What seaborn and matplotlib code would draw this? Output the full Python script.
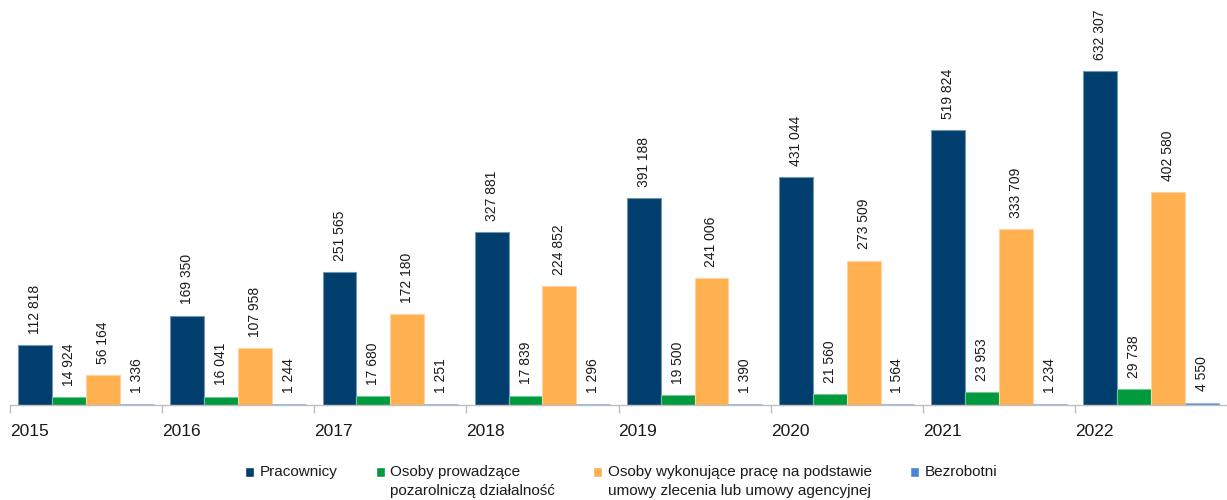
import pandas as pd
import numpy as np
import matplotlib.pyplot as plt
import seaborn as sns
from matplotlib.patches import Rectangle
from matplotlib.legend_handler import HandlerPatch
from matplotlib.colors import to_rgb

# --- DATA ---
years = ["2015", "2016", "2017", "2018", "2019", "2020", "2021", "2022"]
categories = [
    "Pracownicy",
    "Osoby prowadzące\npozarolniczą działalność",
    "Osoby wykonujące pracę na podstawie\numowy zlecenia lub umowy agencyjnej",
    "Bezrobotni",
]
pracownicy = [112818, 169350, 251565, 327881, 391188, 431044, 519824, 632307]
dzialalnosc = [14924, 16041, 17680, 17839, 19500, 21560, 23953, 29738]
zlecenia = [56164, 107958, 172180, 224852, 241006, 273509, 333709, 402580]
bezrobotni = [1336, 1244, 1251, 1296, 1390, 1564, 1234, 4550]

colors = ["#003F6D", "#009A3E", "#FFB04F", "#4A86CF"]

df = pd.DataFrame({"Rok": years * 4,
                   "Kategoria": np.repeat(categories, len(years)),
                   "Wartosc": pracownicy + dzialalnosc + zlecenia + bezrobotni})

sns.set_style("white")
plt.rcParams["font.family"] = ["Liberation Sans", "DejaVu Sans"]

fig = plt.figure(figsize=(12.27, 5.0), dpi=100)
ax = fig.add_axes([10 / 1227, 1 - 405 / 500, 1 - 10 / 1227, 405 / 500])

sns.barplot(data=df, x="Rok", y="Wartosc", hue="Kategoria", order=years,
            hue_order=categories, palette=colors, saturation=1,
            width=0.89, gap=0, ax=ax, legend=True)

# light edge on bars (makes the tiny "Bezrobotni" bars visible like the original)
for cont, c in zip(ax.containers, colors):
    light = tuple(0.55 * np.array(to_rgb(c)) + 0.45)
    for b in cont:
        b.set_edgecolor(light)
        b.set_linewidth(0.8)

# data labels
for cont in ax.containers:
    vals = [b.get_height() for b in cont]
    labels = [f"{int(round(v)):,}".replace(",", "\u00a0") for v in vals]
    ax.bar_label(cont, labels=labels, rotation=90, padding=8, fontsize=10,
                 color="#1a1a1a")

ax.set_xlim(-0.5, len(years) - 0.5)
ax.set_ylim(0, 632307 * 405 / 334)
ax.set_xlabel("")
ax.set_ylabel("")
ax.set_yticks([])

# year labels sit at the left edge of each group
ax.set_xticks(np.arange(len(years)) - 0.5)
ax.set_xticklabels(years, ha="left", fontsize=12.5, color="#1a1a1a")
ax.tick_params(axis="x", bottom=True, length=6, width=1, color="#BFBFBF", pad=8)

for s in ["top", "right", "left"]:
    ax.spines[s].set_visible(False)
ax.spines["bottom"].set_color("#BFBFBF")
ax.spines["bottom"].set_linewidth(1)


# legend marker next to the first line of each (two-line) label
def top_square(legend, orig_handle, xdescent, ydescent, width, height, fontsize):
    return Rectangle((-xdescent, -ydescent + 7.0), width, height)


handles, labels = ax.get_legend_handles_labels()
labels = [l if "\n" in l else l + "\n" for l in labels]
leg = ax.legend(handles, labels, loc="upper center", bbox_to_anchor=(0.502, -0.115),
                ncol=4, frameon=False, fontsize=11, handlelength=0.6,
                handleheight=0.6, handletextpad=0.35, columnspacing=2.5,
                handler_map={h: HandlerPatch(patch_func=top_square) for h in handles})
for t in leg.get_texts():
    t.set_linespacing(1.45)
    t.set_color("#1a1a1a")

fig.savefig("out.png", dpi=100)
